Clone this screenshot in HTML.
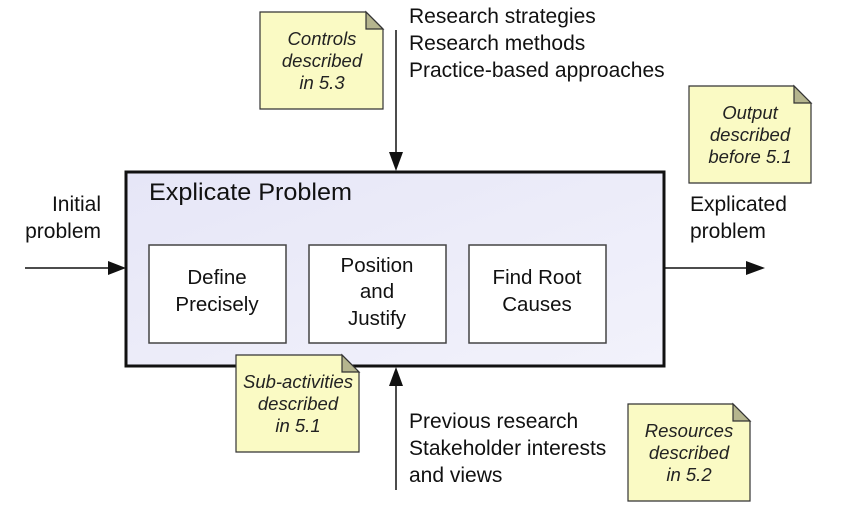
<!DOCTYPE html>
<html><head><meta charset="utf-8"><style>
html,body{margin:0;padding:0;background:#fff;}
svg{display:block;font-family:"Liberation Sans",sans-serif;}
</style></head><body>
<svg width="862" height="508" viewBox="0 0 862 508" xmlns="http://www.w3.org/2000/svg">
<defs>
<linearGradient id="g" x1="0" y1="0" x2="1" y2="1"><stop offset="0" stop-color="#e6e6f7"/><stop offset="1" stop-color="#f2f2fb"/></linearGradient>
</defs>
<rect x="126" y="172" width="538" height="194" fill="url(#g)" stroke="#111" stroke-width="3"/>
<text x="149" y="200" font-size="24" fill="#111" textLength="203" lengthAdjust="spacingAndGlyphs">Explicate Problem</text>
<rect x="149" y="245" width="137" height="98" fill="#fff" stroke="#444" stroke-width="1.5"/>
<rect x="309" y="245" width="137" height="98" fill="#fff" stroke="#444" stroke-width="1.5"/>
<rect x="469" y="245" width="137" height="98" fill="#fff" stroke="#444" stroke-width="1.5"/>
<g font-size="20.5" fill="#111" text-anchor="middle">
<text x="217" y="284">Define</text><text x="217" y="311">Precisely</text>
<text x="377" y="272">Position</text><text x="377" y="298">and</text><text x="377" y="325">Justify</text>
<text x="537" y="284">Find Root</text><text x="537" y="311">Causes</text>
</g>
<g stroke="#111" stroke-width="1.5">
<line x1="25" y1="268" x2="112" y2="268"/>
<line x1="665" y1="268" x2="748" y2="268"/>
<line x1="396" y1="30" x2="396" y2="156"/>
<line x1="396" y1="490" x2="396" y2="382"/>
</g>
<g fill="#111">
<polygon points="108,261 126,268 108,275"/>
<polygon points="746,261 765,268 746,275"/>
<polygon points="389,152 396,171 403,152"/>
<polygon points="389,386 396,367 403,386"/>
</g>
<g font-size="21" fill="#111">
<text x="101" y="211" text-anchor="end">Initial</text>
<text x="101" y="238" text-anchor="end">problem</text>
<text x="690" y="211">Explicated</text>
<text x="690" y="238">problem</text>
<text x="409" y="23">Research strategies</text>
<text x="409" y="50">Research methods</text>
<text x="409" y="77">Practice-based approaches</text>
<text x="409" y="428">Previous research</text>
<text x="409" y="455">Stakeholder interests</text>
<text x="409" y="482">and views</text>
</g>
<g stroke="#333" stroke-width="1.2">
<path d="M260,12 H366 L383,29 V109 H260 Z" fill="#fafac4"/>
<path d="M366,12 V29 H383 Z" fill="#b5b58e"/>
<path d="M689,86 H794 L811,103 V183 H689 Z" fill="#fafac4"/>
<path d="M794,86 V103 H811 Z" fill="#b5b58e"/>
<path d="M236,355 H342 L359,372 V452 H236 Z" fill="#fafac4"/>
<path d="M342,355 V372 H359 Z" fill="#b5b58e"/>
<path d="M628,404 H733 L750,421 V501 H628 Z" fill="#fafac4"/>
<path d="M733,404 V421 H750 Z" fill="#b5b58e"/>
</g>
<g font-size="18.5" font-style="italic" fill="#222" text-anchor="middle">
<text x="322" y="45">Controls</text><text x="322" y="67">described</text><text x="322" y="89">in 5.3</text>
<text x="750" y="119">Output</text><text x="750" y="141">described</text><text x="750" y="163">before 5.1</text>
<text x="298" y="388">Sub-activities</text><text x="298" y="410">described</text><text x="298" y="432">in 5.1</text>
<text x="689" y="437">Resources</text><text x="689" y="459">described</text><text x="689" y="481">in 5.2</text>
</g>
</svg>
</body></html>
